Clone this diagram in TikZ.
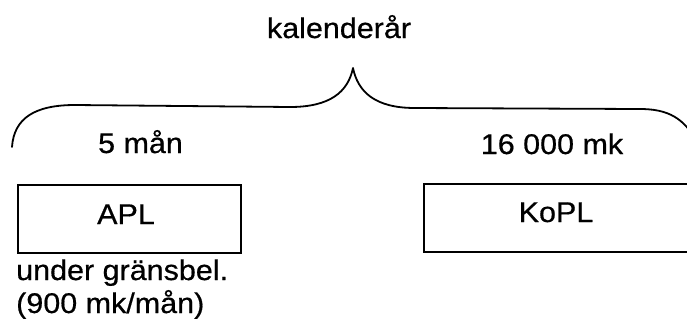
\documentclass[tikz,border=0pt]{standalone}
\usepackage{fontspec}
\setmainfont{Liberation Sans}[FakeStretch=1.07,FakeBold=0.6]
\begin{document}
\begin{tikzpicture}[x=1bp,y=-1bp,
  lbl/.style={inner sep=0pt,anchor=base,font=\fontsize{28.5bp}{33bp}\selectfont},
  lblw/.style={lbl,anchor=base west},
  boxnode/.style={draw,line width=1.5bp,inner sep=0pt},
  bracepath/.style={line width=1.8bp,line join=round,line cap=round}]
\useasboundingbox (0,0) rectangle (687,334);
\clip (0,0) rectangle (687,334);
\node[lbl] (title) at (339,38) {kalenderår};
\node[lbl] (left) at (140.5,153) {5 mån};
\node[lbl] (right) at (552,154) {16 000 mk};
\node[boxnode,minimum width=223bp,minimum height=68bp] (aplbox) at (129.5,219) {};
\node[boxnode,minimum width=300bp,minimum height=68bp] (koplbox) at (574,218) {};
\node[lbl] (apl) at (126,224) {APL};
\node[lbl] (kopl) at (556,222) {KoPL};
\node[lblw] (note1) at (16,280) {under gränsbel.};
\node[lblw] (note2) at (16,313) {(900 mk/mån)};
\coordinate (bl) at (12,147);
\coordinate (tip) at (353,68);
\coordinate (br) at (697,142);
\draw[bracepath] (bl) .. controls (14,118) and (35,105) .. (75,105) -- (290,107)
  .. controls (330,107) and (348,92) .. (tip)
  .. controls (358,92) and (375,108) .. (415,108) -- (640,109)
  .. controls (668,109) and (684,118) .. (br);
\end{tikzpicture}
\end{document}
